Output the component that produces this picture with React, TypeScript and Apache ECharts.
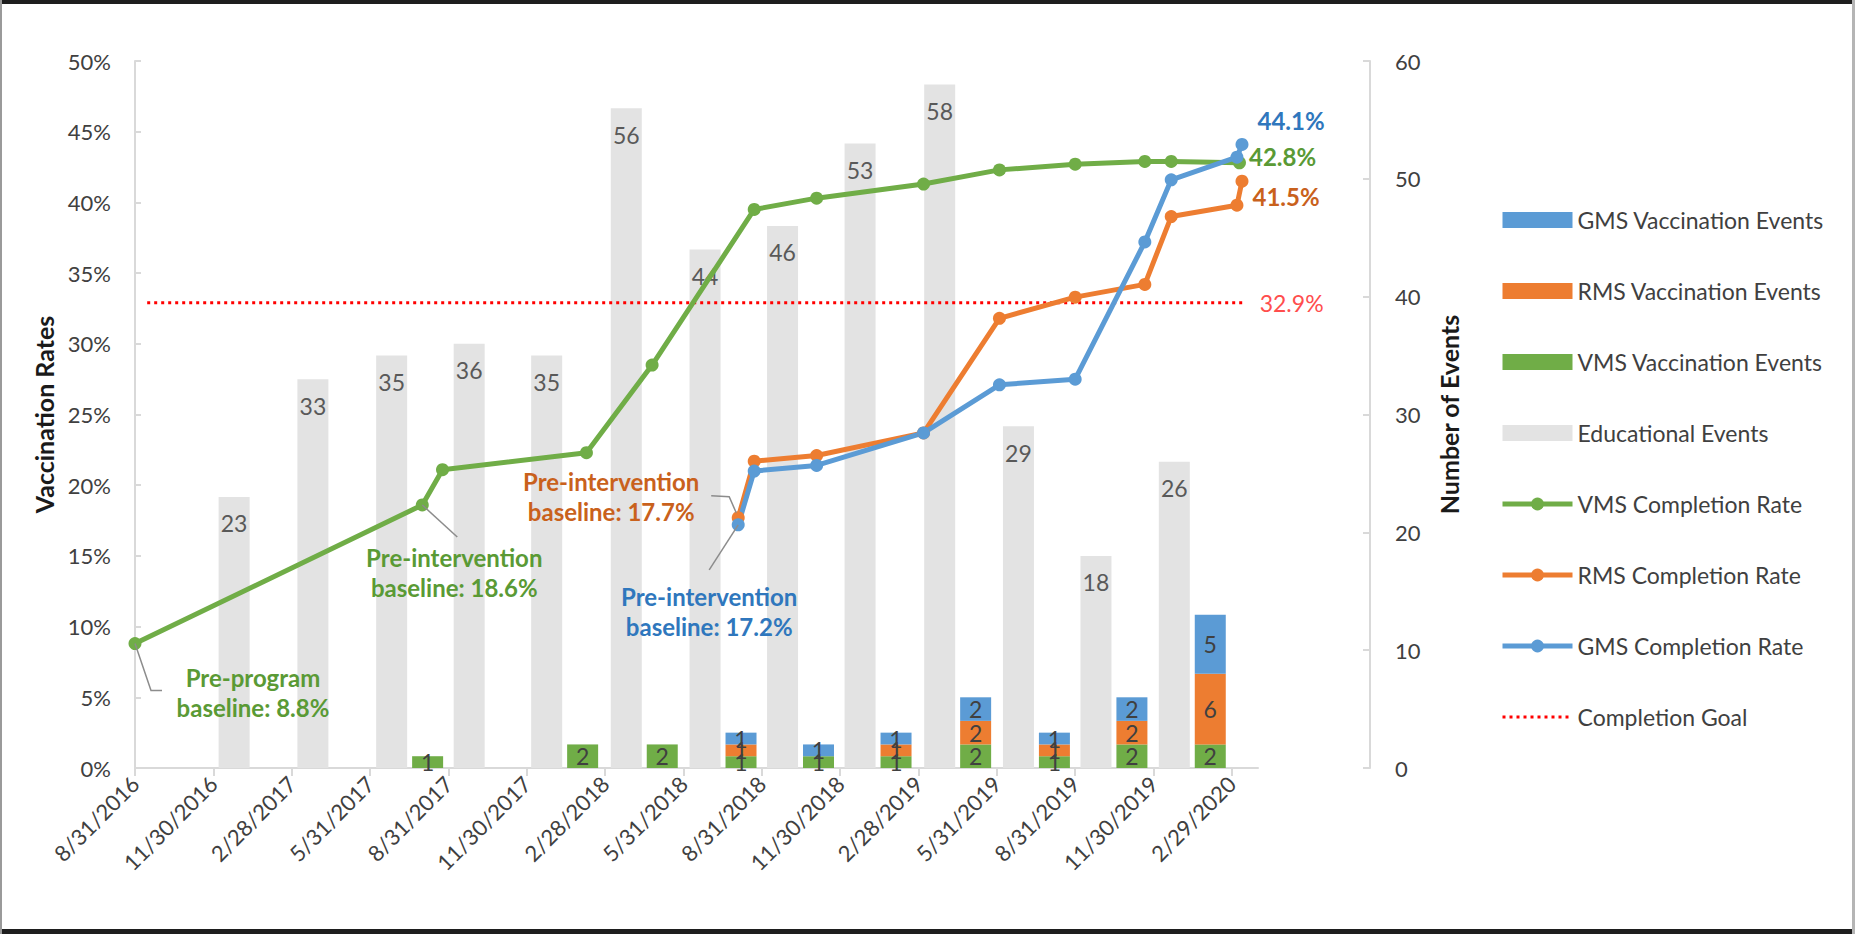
import React, { useEffect, useRef } from 'react';
import * as echarts from 'echarts';

// ---------- data ----------
const tickLabels = ['8/31/2016', '11/30/2016', '2/28/2017', '5/31/2017', '8/31/2017', '11/30/2017', '2/28/2018', '5/31/2018', '8/31/2018', '11/30/2018', '2/28/2019', '5/31/2019', '8/31/2019', '11/30/2019', '2/29/2020'];
const axisStart = '2016-08-31';
const axisEnd = '2020-03-31';

// quarter midpoints (bars)
const quarterMid = ['2017-01-15', '2017-04-15', '2017-07-16', '2017-10-15', '2018-01-14', '2018-04-15', '2018-07-16', '2018-10-15', '2019-01-14', '2019-04-15', '2019-07-16', '2019-10-15', '2020-01-15'];
const eduEvents = [23, 33, 35, 36, 35, 56, 44, 46, 53, 58, 29, 18, 26];
const vmsEvents = [0, 0, 1, 0, 2, 2, 1, 1, 1, 2, 1, 2, 2];
const rmsEvents = [0, 0, 0, 0, 0, 0, 1, 0, 1, 2, 1, 2, 6];
const gmsEvents = [0, 0, 0, 0, 0, 0, 1, 1, 1, 2, 1, 2, 5];

const vmsDates = ['2016-08-31', '2017-07-31', '2017-08-24', '2018-02-08', '2018-04-24', '2018-08-22', '2018-11-03', '2019-03-06', '2019-06-03', '2019-08-31', '2019-11-20', '2019-12-21', '2020-03-09'];
const vmsRate = [8.8, 18.6, 21.1, 22.3, 28.5, 39.5, 40.3, 41.3, 42.3, 42.7, 42.9, 42.9, 42.8];
const rmsDates = ['2018-08-03', '2018-08-22', '2018-11-03', '2019-03-06', '2019-06-03', '2019-08-31', '2019-11-20', '2019-12-21', '2020-03-06', '2020-03-12'];
const rmsRate = [17.7, 21.7, 22.1, 23.7, 31.8, 33.3, 34.2, 39.0, 39.8, 41.5];
const gmsDates = ['2018-08-03', '2018-08-22', '2018-11-03', '2019-03-06', '2019-06-03', '2019-08-31', '2019-11-20', '2019-12-21', '2020-03-06', '2020-03-12'];
const gmsRate = [17.2, 21.0, 21.4, 23.7, 27.1, 27.5, 37.2, 41.6, 43.2, 44.1];
const goalDates = ['2016-09-14', '2020-03-14'];
const goalRate = 32.9;

// ---------- helpers: dates -> months since 8/31/2016 ----------
function monthIndex(y: number, m: number, d: number) {
  const dim = new Date(y, m, 0).getDate();
  return (y - 2016) * 12 + (m - 9) + d / dim;
}
const fromIso = (s: string) => { const [y, m, d] = s.split('-').map(Number); return monthIndex(y, m, d); };
const fromUs = (s: string) => { const [m, d, y] = s.split('/').map(Number); return monthIndex(y, m, d); };
const tickValues = tickLabels.map(fromUs);

const GREEN = '#70AD47', ORANGE = '#ED7D31', BLUE = '#5B9BD5', GREY = '#E3E3E3';
const GREEN_T = '#5A9A35', ORANGE_T = '#C9611C', BLUE_T = '#2F77BD', RED = '#FF0000';
const FONT = 'Lato, "Open Sans", sans-serif';

const annotations = [
  { date: '2016-08-31', rate: 8.8, text: 'Pre-program\nbaseline: 8.8%', color: GREEN_T, tx: 118, ty: 49, leader: [[0, 0], [16, 47], [27, 47]] },
  { date: '2017-07-31', rate: 18.6, text: 'Pre-intervention\nbaseline: 18.6%', color: GREEN_T, tx: 32, ty: 68, leader: [[0, 0], [35, 32]] },
  { date: '2018-08-03', rate: 17.7, text: 'Pre-intervention\nbaseline: 17.7%', color: ORANGE_T, tx: -127, ty: -21, leader: [[-2, -5], [-9, -21], [-27, -22]] },
  { date: '2018-08-03', rate: 17.2, text: 'Pre-intervention\nbaseline: 17.2%', color: BLUE_T, tx: -29, ty: 87, leader: [[0, 0], [-29, 45]] },
];

function lineSeries(name: string, dates: string[], rates: number[], color: string, labelColor: string, labelOffset: number[]) {
  return {
    name,
    type: 'line',
    xAxisIndex: 0,
    yAxisIndex: 0,
    symbol: 'circle',
    symbolSize: 13,
    lineStyle: { width: 5, color },
    itemStyle: { color },
    z: 5,
    data: dates.map((d, i) => {
      const v = [fromIso(d), rates[i]];
      if (i === dates.length - 1) {
        return {
          value: v,
          label: {
            show: true, position: 'right', distance: 0, offset: labelOffset,
            formatter: (p: any) => p.value[1].toFixed(1) + '%',
            color: labelColor, fontSize: 24, fontWeight: 'bold', fontFamily: FONT,
          },
        };
      }
      return v;
    }),
  };
}

// data rows are [count, month] so that the count dimension is the stacked one
function stackSeries(name: string, vals: number[], color: string) {
  return {
    name,
    type: 'bar',
    stack: 'vac',
    yAxisIndex: 1,
    barWidth: 31,
    barGap: '16%',
    encode: { x: 1, y: 0 },
    itemStyle: { color },
    label: {
      show: true, position: 'inside', color: '#404040', fontSize: 23, fontFamily: FONT,
      formatter: (p: any) => String(p.value[0]),
    },
    data: quarterMid.map((d, i) => [vals[i] ? vals[i] : '-', fromIso(d)]),
  };
}

export default function App() {
  const ref = useRef<HTMLDivElement>(null);
  useEffect(() => {
    if (!ref.current) return;
    const chart = echarts.init(ref.current, undefined, { renderer: 'svg' });
    const axisGrey = '#D9D9D9';
    const option: any = {
      animation: false,
      backgroundColor: '#ffffff',
      textStyle: { fontFamily: FONT },
      grid: { left: 135, right: 597, top: 61, bottom: 166, containLabel: false },
      legend: {
        orient: 'vertical',
        left: 1495,
        top: 203,
        itemWidth: 70,
        itemHeight: 16,
        itemGap: 47,
        lineStyle: { width: 'inherit' },
        textStyle: { fontSize: 23, color: '#404040', fontFamily: FONT, lineHeight: 24 },
        data: [
          { name: 'GMS Vaccination Events', icon: 'rect', itemStyle: { borderWidth: 0 } },
          { name: 'RMS Vaccination Events', icon: 'rect' },
          { name: 'VMS Vaccination Events', icon: 'rect' },
          { name: 'Educational Events', icon: 'rect' },
          { name: 'VMS Completion Rate' },
          { name: 'RMS Completion Rate' },
          { name: 'GMS Completion Rate' },
          { name: 'Completion Goal', itemStyle: { color: 'rgba(0,0,0,0)', borderWidth: 0 } },
        ],
      },
      xAxis: {
        type: 'value',
        min: fromIso(axisStart),
        max: fromIso(axisEnd),
        interval: 3,
        splitLine: { show: false },
        axisLine: { show: true, lineStyle: { color: axisGrey, width: 2 } },
        axisTick: { show: true, length: 8, lineStyle: { color: axisGrey, width: 2 }, customValues: tickValues },
        axisLabel: {
          customValues: tickValues,
          rotate: 45,
          fontSize: 22,
          color: '#404040',
          margin: 12,
          formatter: (v: number) => {
            const i = tickValues.findIndex((t) => Math.abs(t - v) < 1e-6);
            return i >= 0 ? tickLabels[i] : '';
          },
        },
      },
      yAxis: [
        {
          type: 'value',
          min: 0,
          max: 50,
          interval: 5,
          position: 'left',
          name: 'Vaccination Rates',
          nameLocation: 'middle',
          nameRotate: 90,
          nameGap: 76,
          nameTextStyle: { fontSize: 25, fontWeight: 'bold', color: '#1a1a1a', fontFamily: FONT },
          splitLine: { show: false },
          axisLine: { show: true, lineStyle: { color: axisGrey, width: 2 } },
          axisTick: { show: true, inside: true, length: 6, lineStyle: { color: axisGrey, width: 2 } },
          axisLabel: { formatter: '{value}%', fontSize: 22, color: '#404040', margin: 24 },
        },
        {
          type: 'value',
          min: 0,
          max: 60,
          interval: 10,
          position: 'right',
          offset: 112,
          name: 'Number of Events',
          nameLocation: 'middle',
          nameRotate: 90,
          nameGap: 66,
          nameTextStyle: { fontSize: 25, fontWeight: 'bold', color: '#1a1a1a', fontFamily: FONT },
          splitLine: { show: false },
          axisLine: { show: true, lineStyle: { color: axisGrey, width: 2 } },
          axisTick: { show: true, inside: true, length: 7, lineStyle: { color: axisGrey, width: 2 } },
          axisLabel: { fontSize: 22, color: '#404040', margin: 25 },
        },
      ],
      series: [
        {
          name: 'Educational Events',
          type: 'bar',
          stack: 'edu',
          yAxisIndex: 1,
          barWidth: 31,
          barGap: '16%',
          encode: { x: 1, y: 0 },
          itemStyle: { color: GREY },
          label: {
            show: true, position: 'insideTop', distance: 15, color: '#595959', fontSize: 23, fontFamily: FONT,
            formatter: (p: any) => String(p.value[0]),
          },
          data: quarterMid.map((d, i) => [eduEvents[i], fromIso(d)]),
        },
        stackSeries('VMS Vaccination Events', vmsEvents, GREEN),
        stackSeries('RMS Vaccination Events', rmsEvents, ORANGE),
        stackSeries('GMS Vaccination Events', gmsEvents, BLUE),
        {
          name: 'Completion Goal',
          type: 'line',
          yAxisIndex: 0,
          symbol: 'none',
          lineStyle: { color: RED, width: 3, type: [3, 4] },
          itemStyle: { color: RED },
          z: 4,
          endLabel: {
            show: true,
            distance: 16,
            formatter: () => goalRate.toFixed(1) + '%',
            color: '#FF4D4D',
            fontSize: 23,
            fontFamily: FONT,
          },
          data: goalDates.map((d) => [fromIso(d), goalRate]),
        },
        lineSeries('VMS Completion Rate', vmsDates, vmsRate, GREEN, GREEN_T, [3, -6]),
        lineSeries('RMS Completion Rate', rmsDates, rmsRate, ORANGE, ORANGE_T, [4, 15]),
        lineSeries('GMS Completion Rate', gmsDates, gmsRate, BLUE, BLUE_T, [9, -24]),
      ],
    };
    chart.setOption(option);

    const W = 1855, H = 934;
    const graphics: any[] = [
      { type: 'rect', silent: true, shape: { x: 0, y: 0, width: W, height: 4 }, style: { fill: '#1e1e1e' }, z: 100 },
      { type: 'rect', silent: true, shape: { x: 0, y: H - 5, width: W, height: 5 }, style: { fill: '#1e1e1e' }, z: 100 },
      { type: 'rect', silent: true, shape: { x: 0, y: 0, width: 2, height: H }, style: { fill: '#9a9a9a' }, z: 100 },
      { type: 'rect', silent: true, shape: { x: W - 3, y: 0, width: 3, height: H }, style: { fill: '#b5b5b5' }, z: 100 },
    ];
    annotations.forEach((a) => {
      const p = chart.convertToPixel({ xAxisIndex: 0, yAxisIndex: 0 }, [fromIso(a.date), a.rate]) as number[];
      graphics.push({
        type: 'polyline',
        silent: true,
        z: 50,
        shape: { points: a.leader.map(([dx, dy]) => [p[0] + dx, p[1] + dy]) },
        style: { stroke: '#8c8c8c', lineWidth: 1.5, fill: null },
      });
      graphics.push({
        type: 'text',
        silent: true,
        z: 50,
        x: p[0] + a.tx,
        y: p[1] + a.ty,
        style: {
          text: a.text,
          fill: a.color,
          fontSize: 24,
          fontWeight: 'bold',
          fontFamily: FONT,
          align: 'center',
          verticalAlign: 'middle',
          lineHeight: 30,
        },
      });
    });
    chart.setOption({ graphic: graphics });
    return () => chart.dispose();
  }, []);
  return <div ref={ref} style={{ position: 'fixed', left: 0, top: 0, width: 1855, height: 934, background: '#fff' }} />;
}
